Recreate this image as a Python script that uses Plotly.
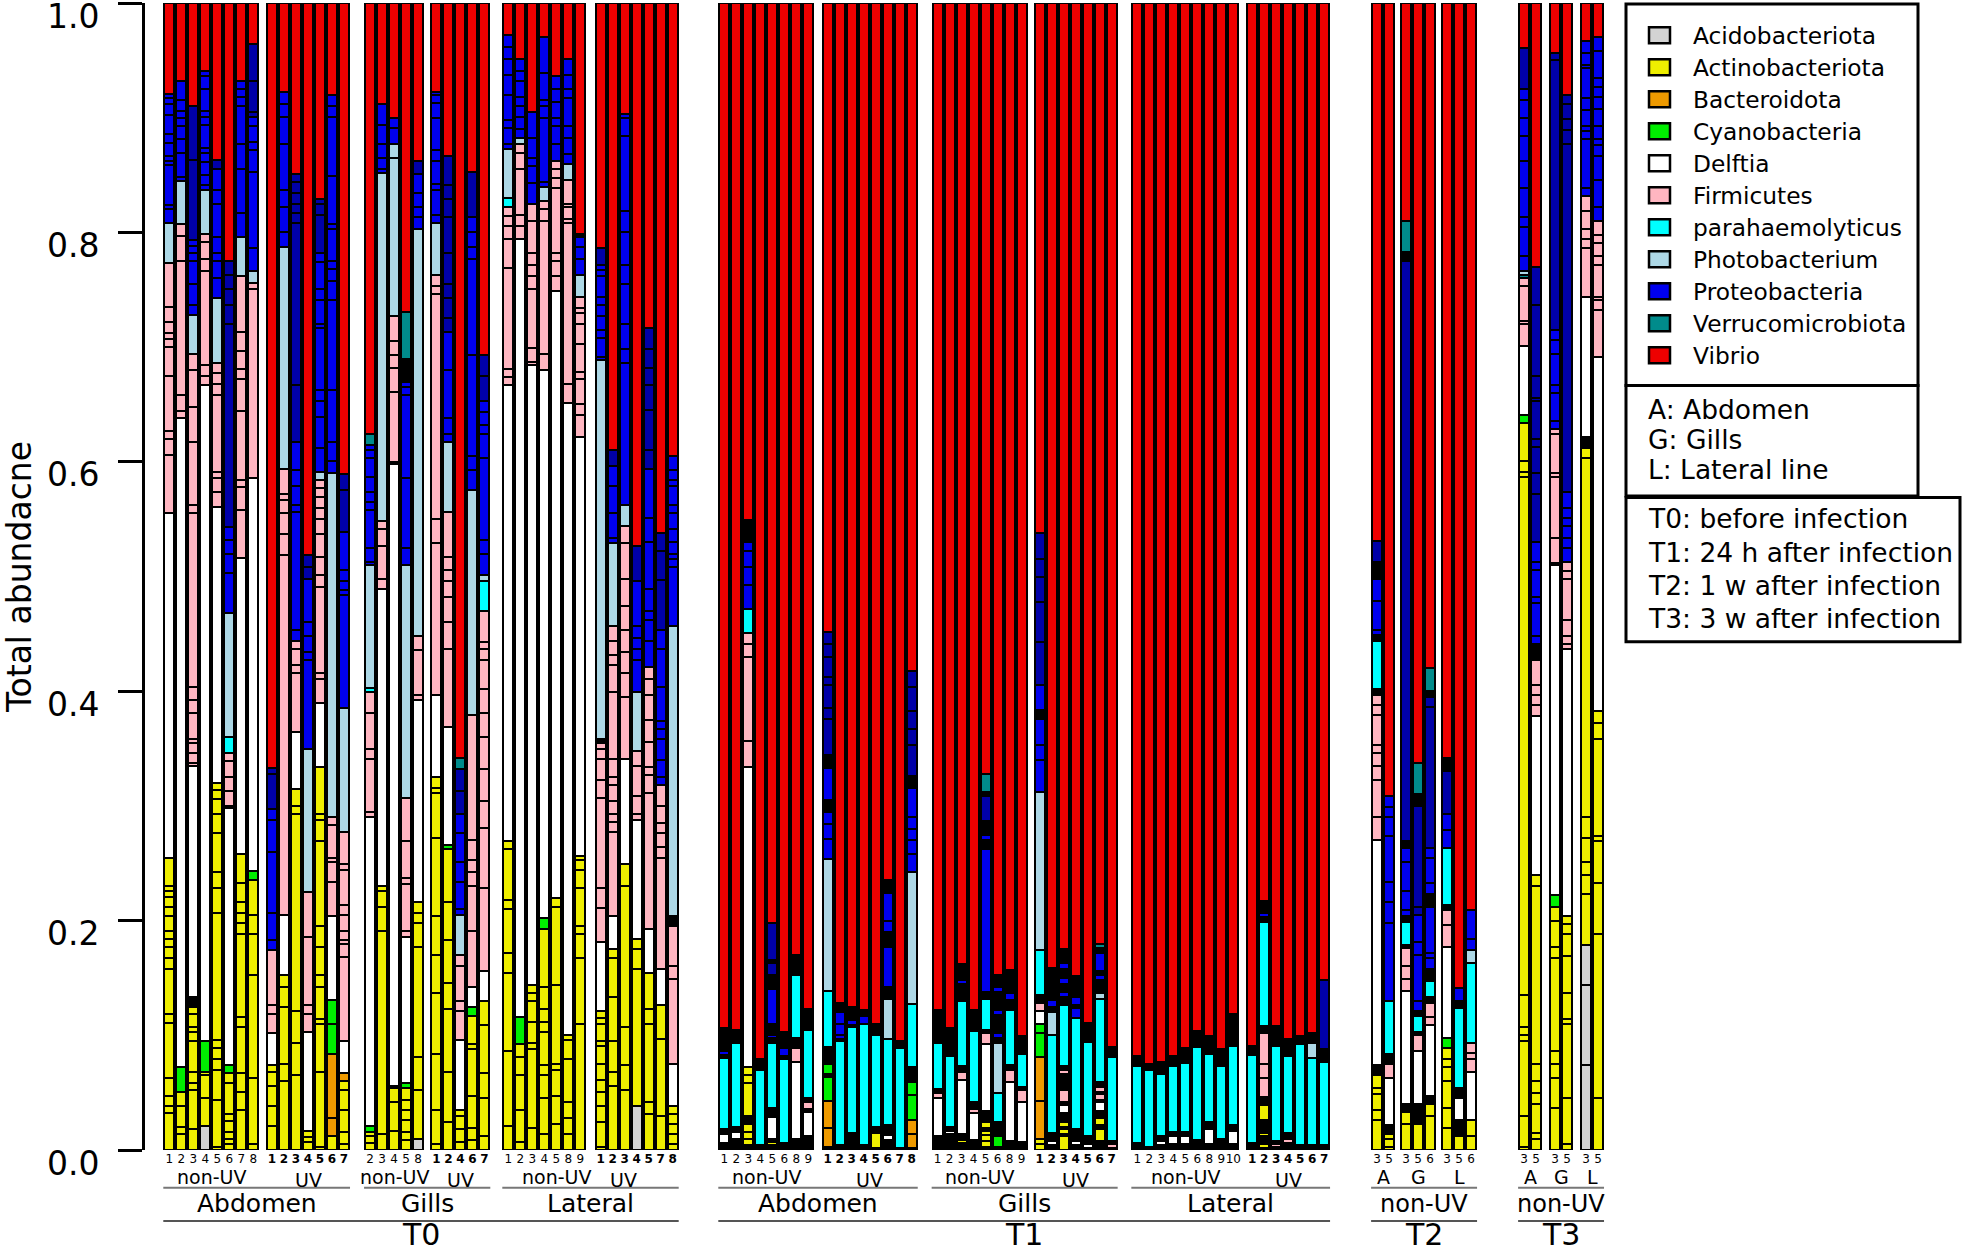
import plotly.graph_objects as go

# ---- taxa ----------------------------------------------------------------
LEGEND_TAXA = ["Acidobacteriota", "Actinobacteriota", "Bacteroidota", "Cyanobacteria", "Delftia", "Firmicutes",
               "parahaemolyticus", "Photobacterium", "Proteobacteria", "Verrucomicrobiota", "Vibrio"]
LEGEND_COLORS = ["#D3D3D3", "#EEEE00", "#EE9A00", "#00EE00", "#FFFFFF", "#FFB6C1",
                 "#00FFFF", "#ADD8E6", "#0000EE", "#008B8B", "#EE0000"]
CODE_NAME = {"A": "Acidobacteriota", "Y": "Actinobacteriota", "O": "Bacteroidota", "G": "Cyanobacteria",
             "W": "Delftia", "F": "Firmicutes", "C": "parahaemolyticus", "L": "Photobacterium",
             "B": "Proteobacteria", "D": "Proteobacteria (minor OTUs)", "T": "Verrucomicrobiota",
             "R": "Vibrio", "K": "unresolved thin OTUs"}
CODE_COLOR = {"A": "#D3D3D3", "Y": "#EEEE00", "O": "#EE9A00", "G": "#00EE00", "W": "#FFFFFF", "F": "#FFB6C1",
              "C": "#00FFFF", "L": "#ADD8E6", "B": "#0000EE", "D": "#0000A8", "T": "#008B8B",
              "R": "#EE0000", "K": "#000000"}

# ---- data: every bar lists taxon codes followed by cumulative segment tops; Vibrio fills up to 1.0 ----
T0_ABD_NON = [
 ["Y",.032,.038,.047,.063,.111,.119,.158,.167,.177,.184,.191,.204,.212,.221,.226,.230,.255,"W",.555,"F",.606,.620,.627,.675,.700,.707,.712,.722,.735,.773,"L",.808,"B",.820,.824,.859,.862,.867,.878,.886,.902,.912,.917,.921],
 ["Y",.014,.020,.038,.051,"G",.072,"W",.638,"F",.644,.658,.775,.797,.807,"L",.845,"B",.848,.869,.881,.893,.900,.906,.915,.932],
 ["Y",.018,.052,.058,.068,.095,.103,.107,.119,.125,"K",.133,"W",.335,"F",.337,.346,.355,.358,.381,.392,.404,.555,.562,.617,.648,.680,.694,"L",.728,"B",.737,.755,.775,.782,.788,.793,"D",.863,.910],
 ["A",.021,"Y",.045,.065,.068,"G",.095,"W",.667,"F",.675,.684,.766,.777,.792,.799,"L",.837,"B",.841,.850,.861,.869,.874,.894,.901,.906,.925,.936,.941],
 ["Y",.003,.044,.070,.079,.089,.096,.207,.228,.242,.276,.293,.306,.314,.320,"W",.561,"F",.574,.586,.591,.658,.668,.677,.686,"L",.743,"B",.760,.775,.782,.796,.825,.837,.855,"D",.863],
 ["Y",.005,.010,.016,.025,.031,.058,.067,"G",.074,"W",.298,"F",.300,.313,.325,.339,.346,"C",.360,"L",.468,"B",.503,.520,.532,.543,"D",.720,.737,.751,.763,.775],
 ["Y",.035,.051,.067,.107,.116,.188,.198,.207,.216,.233,.258,"W",.516,"F",.558,.578,.584,.644,.672,.681,.697,.713,.762,"L",.796,"B",.817,.855,.877,.910,.918,.925,.932],
 ["Y",.005,.063,.153,.188,.205,.235,"G",.243,"W",.586,"F",.751,.756,"L",.766,"B",.786,.853,.872,.879,.893,.901,"D",.905,.932,.964],
]
T0_ABD_UV = [
 ["Y",.021,.038,.056,.068,.074,"W",.102,"F",.119,.126,.174,"B",.183,.207,.260,.288,.297,"D",.328,.333],
 ["Y",.060,.075,.125,.142,.153,"W",.205,"F",.519,.537,.555,.567,.572,.594,"L",.787,"B",.800,.822,.837,.877,.901,.912,.922],
 ["Y",.065,.093,.121,.293,.300,.315,"W",.364,"F",.416,.423,.437,.444,"B",.453,.556,.562,.579,.593,.617,"D",.667,.808,.817,.825,.834,.844,.851],
 ["Y",.007,.011,.017,"W",.103,"F",.119,.126,.186,.225,"L",.350,"B",.427,.434,.448,.460,.498,"D",.508,.519],
 ["Y",.003,.068,.110,.114,.142,.153,.177,.195,.269,.288,.293,.334,"W",.390,"F",.411,.416,.491,.501,.517,.537,.550,.560,.569,.577,.584,"L",.591,"B",.612,.639,.653,.663,.717,.720,.741,.751,.774,.782,"D",.815,.825,.829],
 ["Y",.012,"O",.028,.084,"G",.110,.131,"W",.204,"F",.234,.251,.255,.283,.290,"L",.590,"B",.601,.617,.663,.741,.758,.768,.775,.803,.807,.849,.901,.910,.920],
 ["Y",.005,.016,.035,.052,.060,"O",.067,"W",.095,"F",.168,.180,.183,.191,.205,.214,.244,.249,.277,"L",.385,"B",.484,.488,.496,.506,.539,"D",.575,.589],
]
T0_GIL_NON = [
 ["Y",.006,.012,.016,"G",.021,"W",.290,"F",.295,.341,.350,.381,.399,"C",.403,"L",.510,"B",.513,.525,.558,.565,.574,.587,.603,.610,.615,"T",.624],
 ["Y",.014,.191,.212,.226,.230,"W",.489,"F",.498,.527,.541,.548,"L",.852,"B",.855,.865,.877,.894,.912],
 ["Y",.017,.042,.054,"K",.056,"W",.598,"F",.600,.661,.682,.693,.705,.727,"L",.865,.877,"B",.891,.900],
 ["Y",.009,.016,.026,.035,.044,.054,"G",.058,"W",.186,"F",.191,.232,.237,.269,.307,"L",.510,"B",.525,.586,.658,.665,.670,"K",.690,"T",.731],
 ["A",.010,"Y",.052,.081,.177,.198,.207,.216,"W",.392,"F",.397,.436,.448,"L",.803,"B",.813,.822,.834,.851,"D",.862],
]
T0_GIL_UV = [
 ["Y",.005,.035,.084,.137,.170,.204,.272,.311,.316,.325,"W",.397,"F",.529,.550,.746,.753,.763,"L",.808,"B",.815,.837,.842,.862,.872,.900,.913,.920,.922],
 ["Y",.024,.068,.123,.146,.183,.216,.262,"G",.266,"W",.369,"F",.437,.460,.482,.496,.506,.517,.556,"L",.617,"B",.624,.638,.680,.713,"D",.725,.743,.755,.782,.813,.829,.841,.867],
 ["Y",.007,.018,.030,.035,"W",.096,"F",.121,.130,.160,.170,"L",.205,"B",.210,.234,.251,.276,.293,"D",.313,.332,"T",.342],
 ["Y",.009,.019,.047,.088,.092,.117,"G",.125,"W",.142,"F",.191,.230,.242,.253,.270,.379,"L",.575,"B",.593,.605,.693,.777,.787,.800,.813,"D",.853],
 ["Y",.012,.045,.067,.109,.130,"W",.156,"F",.228,.281,.304,.332,.360,.381,.402,.427,.437,.443,.470,"C",.496,"L",.501,"B",.520,.532,.603,.624,.632,.643,.653,"D",.675,.693],
]
T0_LAT_NON = [
 ["Y",.021,.086,.154,.172,.210,.218,.262,.269,"W",.667,"F",.674,.681,.769,.794,.806,.814,.822,"C",.830,"L",.873,"B",.877,.891,.898,.920,.937,.951,.962,.972],
 ["Y",.007,.035,.065,.081,.092,"G",.116,"W",.794,"F",.806,.815,.855,.869,.877,"L",.882,"B",.890,.901,.910,.918,.932,.941,.951],
 ["Y",.019,.088,.093,.112,.130,.137,.144,"W",.684,"F",.687,.699,.751,.762,.772,.782,.810,.825,"B",.843,.858,.865,.882,.905],
 ["Y",.014,.045,.065,.074,.103,.112,.123,.142,.193,"G",.202,"W",.680,"F",.694,.810,.820,.827,"L",.840,"B",.844,.900,.910,.915,.939,.970],
 ["Y",.023,.047,.070,.075,.144,.212,.220,"W",.749,"F",.762,.775,.782,.839,.847,.855,.862,"B",.877,.893,.900,.914,.925,.936],
 ["Y",.014,.028,.042,.079,.096,.100,"W",.651,"F",.668,.808,.812,.822,.825,.846,"L",.860,"B",.868,.882,.893,.917,.925,.937,.951],
 ["Y",.110,.167,.188,.195,.228,.244,.253,.256,"W",.622,"F",.641,.650,.672,.678,.703,.720,.730,.734,.744,"L",.763,"B",.777,.787,.796,"K",.799],
]
T0_LAT_UV = [
 ["Y",.003,.024,.038,.051,.061,.075,.091,.095,.110,.115,.121,"W",.181,"F",.211,.228,.307,.323,.341,.350,.355,"K",.358,"L",.689,"B",.691,.708,.715,.727,.737,.744,.762,.767,.772,"D",.786],
 ["Y",.056,.068,.095,.133,.167,.175,"W",.204,"F",.277,.286,.293,.304,.318,.325,.341,.399,.423,.432,.444,.457,"L",.529,"B",.534,.555,.579,.596,"D",.610],
 ["Y",.052,.074,.107,.230,.249,"W",.341,"F",.395,.416,.434,.453,.474,.498,.529,.544,"L",.562,"B",.686,.698,.720,.755,.772,.800,.819,.884,.900,.903],
 ["A",.038,"Y",.158,.175,.184,"W",.288,"F",.293,.309,.335,.348,"L",.399,"B",.427,.437,.446,.457,.496,"D",.527],
 ["Y",.031,.042,.110,.123,.154,"W",.193,"F",.311,.327,.334,.356,.375,.397,.411,.421,"B",.444,.462,.470,.489,.530,.551,.594,"D",.610,.645,.667,.682,.698,.717],
 ["Y",.030,.097,.126,"W",.158,"F",.255,.264,.276,.285,.300,.318,"B",.325,.340,.358,.367,.374,.404,.437,.453,"D",.497,.522,.538],
 ["Y",.005,.014,.023,.031,.038,"W",.075,"F",.149,.160,.195,"K",.204,"L",.457,"B",.508,.515,.520,.530,.541,.555,.562,.579,.584,.593,.605],
]
T1_ABD_NON = [
 ["K",.006,"W",.014,"K",.018,"C",.080,"K",.083,"B",.086,"K",.106],
 ["K",.010,"W",.016,"K",.020,"C",.093,"K",.105],
 ["K",.004,"Y",.010,.016,.023,"K",.030,"Y",.058,.065,.072,"W",.334,"F",.357,.430,.441,.451,"C",.472,"B",.493,.508,.522,.530,"K",.549],
 ["K",.004,"C",.070,"K",.079],
 ["K",.004,"Y",.007,"K",.010,"W",.029,"K",.037,"C",.093,"K",.098,"B",.100,"K",.110,"B",.140,"K",.153,"D",.163,"K",.166,"D",.198],
 ["K",.006,"C",.079,"K",.082,"B",.089,"K",.103],
 ["K",.010,"W",.077,"F",.089,"K",.098,"C",.153,"K",.170],
 ["K",.006,"Y",.008,"K",.012,"W",.033,"K",.036,"F",.042,"K",.045,"C",.105,"K",.123],
]
T1_ABD_UV = [
 ["K",.003,"O",.019,.043,"G",.064,"K",.066,"G",.075,"K",.090,"C",.139,"L",.254,"B",.271,.284,.295,"K",.305,"B",.333,"K",.344,"D",.376,.385,.405,.412,.430,.441,.452],
 ["K",.004,"C",.095,"K",.097,"B",.100,.110,.120,"K",.128],
 ["K",.015,"C",.107,"K",.109,"B",.113,"K",.125],
 ["K",.004,"C",.110,"B",.117,"K",.122],
 ["K",.002,"Y",.015,"K",.020,"C",.100,"K",.110],
 ["K",.009,"W",.013,"K",.022,"C",.097,"L",.132,"K",.142,"B",.177,"K",.190,"B",.200,.224,"K",.235],
 ["K",.002,"C",.089,"K",.095],
 ["K",.002,"O",.014,.026,"G",.048,.059,"K",.072,"C",.127,"L",.242,"B",.258,.270,.280,.290,.316,"K",.326,"D",.353,.367,.383,.404,.418],
]
T1_GIL_NON = [
 ["K",.012,"W",.045,"F",.050,"K",.053,"C",.093,"K",.122],
 ["K",.014,"W",.017,"K",.020,"C",.082,"K",.106],
 ["K",.006,"Y",.009,"K",.014,"W",.061,"F",.068,"K",.073,"C",.130,"K",.145,"B",.148,"K",.162],
 ["K",.004,"Y",.006,"K",.009,"W",.032,"F",.036,"K",.042,"C",.104,"K",.122],
 ["K",.003,"Y",.008,.013,.017,"K",.019,"Y",.024,"K",.034,"W",.092,"F",.102,"K",.105,"C",.132,"K",.138,"B",.262,"K",.270,"B",.275,"K",.287,"D",.309,"K",.312,"T",.328],
 ["K",.003,"G",.012,"K",.014,"W",.016,"K",.024,"C",.050,"L",.093,"K",.098,"B",.102,"K",.118,"B",.122,"K",.138,"B",.142,"K",.153],
 ["K",.008,"W",.059,"F",.070,"K",.074,"C",.122,"K",.131,"B",.137,"K",.157],
 ["K",.007,"W",.042,"F",.052,"K",.055,"C",.084,"K",.099],
]
T1_GIL_UV = [
 ["Y",.005,.010,"O",.043,.081,"G",.102,.110,"W",.121,"F",.128,"K",.135,"C",.174,"L",.312,"B",.340,.353,.376,"K",.384,"B",.405,"D",.443,.478,.500,.515,.538],
 ["K",.004,"W",.008,"K",.015,"C",.100,"L",.120,"K",.125,"B",.131,"K",.159],
 ["Y",.012,"K",.014,"Y",.018,"K",.020,"Y",.024,"K",.032,"W",.039,"K",.042,"F",.052,"K",.066,"F",.070,"K",.073,"C",.126,"K",.133,"B",.138,"K",.145,"B",.150,"K",.158,"B",.163,"K",.175],
 ["K",.004,"W",.008,"K",.018,"C",.115,"B",.124,"K",.126,"B",.133,"K",.152],
 ["K",.002,"W",.005,"K",.012,"C",.094,"K",.111],
 ["Y",.002,"K",.008,"Y",.018,"K",.022,"Y",.028,"K",.034,"W",.042,"K",.044,"F",.049,"K",.051,"F",.055,"K",.059,"C",.132,"L",.137,"K",.148,"B",.153,"K",.156,"B",.172,"K",.176,"T",.180],
 ["K",.002,"F",.005,"K",.008,"C",.081,"K",.090],
]
T1_LAT_NON = [
 ["K",.006,"C",.073,"K",.082],
 ["K",.003,"C",.070,"K",.075],
 ["K",.004,"W",.008,"K",.012,"C",.066,"K",.077],
 ["K",.005,"W",.012,"K",.016,"C",.073,"K",.082],
 ["K",.005,"W",.012,"K",.016,"C",.076,"K",.089],
 ["K",.009,"C",.090,"K",.104],
 ["K",.005,"W",.018,"K",.024,"C",.084,"K",.099],
 ["K",.007,"W",.008,"K",.010,"C",.073,"K",.088],
 ["K",.005,"W",.017,"K",.022,"C",.091,"K",.119],
]
T1_LAT_UV = [
 ["K",.006,"C",.083,"K",.091],
 ["Y",.001,"K",.002,"Y",.005,"K",.012,"Y",.015,"K",.026,"Y",.039,"K",.046,"F",.063,.075,.102,"K",.108,"C",.199,"K",.203,"B",.207,"K",.217],
 ["K",.003,"F",.005,"K",.008,"C",.091,"K",.108],
 ["K",.006,"F",.010,"K",.015,"C",.082,"K",.097],
 ["K",.004,"C",.092,"K",.099],
 ["K",.004,"C",.080,"L",.093,"K",.102],
 ["K",.004,"C",.077,"K",.088,"D",.148],
]
T2_A = [
 ["Y",.026,.035,.049,.054,.065,"K",.074,"W",.270,"F",.290,.323,.335,.346,.353,.379,.388,.397,"K",.402,"C",.444,"K",.449,"B",.453,.479,.498,"K",.513,"D",.531],
 ["Y",.003,.010,.014,"K",.022,"W",.063,"F",.075,"K",.084,"C",.130,"B",.198,.216,.234,.274,.290,.299,.309],
]
T2_G = [
 ["Y",.023,.033,"K",.040,"W",.139,"F",.149,.160,.176,"K",.179,"C",.199,"K",.204,"B",.209,.226,.251,.263,"K",.269,"D",.775,"K",.783,"T",.810],
 ["Y",.023,"K",.040,"W",.086,"F",.100,"K",.103,"C",.117,"K",.121,"B",.130,.170,.181,.205,"D",.212,.300,"K",.310,"T",.337],
 ["Y",.030,.040,"K",.047,"W",.109,"F",.116,.128,"K",.133,"C",.147,"K",.158,"B",.167,.172,.212,"K",.223,"B",.233,.255,.263,"D",.386,.395,"K",.400,"T",.420],
]
T2_L = [
 ["Y",.019,.037,.060,.072,.079,.089,"G",.098,"W",.177,"F",.196,.209,"K",.214,"C",.263,"B",.279,.293,"D",.330,"K",.342],
 ["Y",.012,"K",.026,"W",.045,"K",.054,"C",.124,"K",.130,"B",.141],
 ["Y",.012,.026,"W",.068,"F",.079,.085,.093,"C",.163,"L",.174,"B",.184,.209],
]
T3_A = [
 ["Y",.003,.030,.095,.100,.107,.135,.587,.591,.601,.634,"G",.641,"W",.701,"F",.720,.723,.753,.760,"T",.763,"L",.766,"B",.779,.805,.813,.839,.862,.884,.900,.915,.925,"D",.961],
 ["Y",.010,.015,.040,.050,.060,.075,.230,.240,"W",.378,"F",.388,.397,.405,.427,"K",.441,"B",.448,.477,.482,.506,.513,.530,"D",.572,.590,.613,.620,.653,.656,.675,.737,.770],
]
T3_G = [
 ["Y",.037,.063,.075,.086,.167,.177,.200,.212,"G",.222,"W",.510,"F",.512,.534,.587,.590,.624,.629,"B",.636,.660,.667,.694,.706,.715,"D",.950,.956],
 ["Y",.005,.045,.110,.114,.137,.169,.188,.197,.204,"W",.437,"F",.441,.448,.462,.498,.505,.513,"B",.525,.534,.544,.551,.560,.574,"D",.877,.889,.899,.912,.920],
]
T3_L = [
 ["A",.074,.144,.179,"Y",.223,.240,.251,.272,.290,.603,.612,"K",.622,"W",.744,"F",.786,.794,.803,.819,.832,"B",.839,.881,.888,.893,.907,.917,.943,.946,.956,.967],
 ["Y",.045,.188,.233,.269,.274,.358,.372,.383,"W",.691,"F",.732,.741,.744,.772,.779,.791,.798,.810,"B",.822,.846,.867,.876,.881,.893,.908,.918,.927,.935,.958,.970],
]

GROUPS = [  # data, sample labels, bold labels, first-bar slot
    (T0_ABD_NON, ["1","2","3","4","5","6","7","8"], False, 0.00),
    (T0_ABD_UV, ["1","2","3","4","5","6","7"], True, 8.56),
    (T0_GIL_NON, ["2","3","4","5","8"], False, 16.73),
    (T0_GIL_UV, ["1","2","4","6","7"], True, 22.25),
    (T0_LAT_NON, ["1","2","3","4","5","8","9"], False, 28.25),
    (T0_LAT_UV, ["1","2","3","4","5","7","8"], True, 35.95),
    (T1_ABD_NON, ["1","2","3","4","5","6","8","9"], False, 46.25),
    (T1_ABD_UV, ["1","2","3","4","5","6","7","8"], True, 54.87),
    (T1_GIL_NON, ["1","2","3","4","5","6","8","9"], False, 64.03),
    (T1_GIL_UV, ["1","2","3","4","5","6","7"], True, 72.53),
    (T1_LAT_NON, ["1","2","3","4","5","6","8","9","10"], False, 80.67),
    (T1_LAT_UV, ["1","2","3","4","5","6","7"], True, 90.23),
    (T2_A, ["3","5"], False, 100.65),
    (T2_G, ["3","5","6"], False, 103.07),
    (T2_L, ["3","5","6"], False, 106.48),
    (T3_A, ["3","5"], False, 112.90),
    (T3_G, ["3","5"], False, 115.48),
    (T3_L, ["3","5"], False, 118.06),
]

# ---- layout geometry ------------------------------------------------------
W, H = 1968, 1252
ML, MT, MB = 145, 3, 102
PITCH = 12.0
FIRST_PX = 169.3
FONT = "DejaVu Sans"
px2slot = lambda px: (px - FIRST_PX) / PITCH
xp = lambda px: (px - ML) / (W - ML)
yp = lambda py: (H - MB - py) / (H - MB - MT)

# ---- build segments -------------------------------------------------------
seg = {c: dict(x=[], y=[], base=[]) for c in CODE_NAME}
tickvals, ticktext, spans = [], [], []
for data, labels, bold, start in GROUPS:
    xs = [start + i for i in range(len(data))]
    spans.append((xs[0], xs[-1]))
    for x, lab, bar in zip(xs, labels, data):
        tickvals.append(x)
        ticktext.append(f"<b>{lab}</b>" if bold else lab)
        prev, code = 0.0, None
        for item in list(bar) + ["R", 1.0]:
            if isinstance(item, str):
                code = item
                continue
            if item > prev:
                seg[code]["x"].append(x)
                seg[code]["y"].append(round(item - prev, 4))
                seg[code]["base"].append(round(prev, 4))
                prev = item

fig = go.Figure()
for code in ["A", "Y", "O", "G", "W", "F", "C", "L", "B", "D", "T", "R", "K"]:
    s = seg[code]
    fig.add_trace(go.Bar(name=CODE_NAME[code], x=s["x"], y=s["y"], base=s["base"], width=0.833,
                         marker=dict(color=CODE_COLOR[code], line=dict(color="black", width=2)),
                         showlegend=False))

shapes, annots = [], []

def text(px, py, s, size, anchor="center", color="black"):
    annots.append(dict(x=xp(px), y=yp(py), xref="paper", yref="paper", text=s, showarrow=False,
                       xanchor=anchor, yanchor="middle", font=dict(family=FONT, size=size, color=color)))

def label(slot, py, s, size):
    annots.append(dict(x=slot, y=yp(py), xref="x", yref="paper", text=s, showarrow=False,
                       xanchor="center", yanchor="middle", font=dict(family=FONT, size=size, color="black")))

def rule(a, b, py, color="#777777", width=2):
    shapes.append(dict(type="line", xref="x", yref="paper", x0=spans[a][0]-0.5, x1=spans[b][1]+0.5,
                       y0=yp(py), y1=yp(py), line=dict(color=color, width=width)))

mid = lambda a, b: (spans[a][0] + spans[b][1]) / 2
# second-line labels below each pair of sample groups
for a, b, off_n, off_u, name in [(0, 1, 0, 0, "Abdomen"), (2, 3, 0, 0, "Gills"), (4, 5, 1.05, -1.1, "Lateral"),
                                 (6, 7, 0, 0, "Abdomen"), (8, 9, 0, 0, "Gills"), (10, 11, 0, 0, "Lateral")]:
    label(mid(a, a) + off_n, 1177, "non-UV", 19)
    label(mid(b, b) + off_u, 1180, "UV", 19)
    rule(a, b, 1187.7)
    label(mid(a, b), 1203.5, name, 25)
rule(0, 5, 1221, "#555555")
label(mid(0, 5), 1234, "T0", 30)
rule(6, 11, 1221, "#555555")
label(mid(6, 11), 1234, "T1", 30)
for g, s in [(12, "A"), (13, "G"), (14, "L"), (15, "A"), (16, "G"), (17, "L")]:
    label(mid(g, g), 1177, s, 19)
for a, b, name in [(12, 14, "T2"), (15, 17, "T3")]:
    rule(a, b, 1187.7)
    label(mid(a, b), 1203.5, "non-UV", 24)
    rule(a, b, 1221, "#555555")
    label(mid(a, b), 1234, name, 30)

# legend panels
def box(x0, y0, x1, y1):
    shapes.append(dict(type="rect", xref="paper", yref="paper", x0=xp(x0), x1=xp(x1), y0=yp(y0), y1=yp(y1),
                       line=dict(color="black", width=3), fillcolor="white"))

box(1626, 4, 1918, 385.6)
box(1626, 385.6, 1918, 496)
box(1626, 497.5, 1960, 641.8)
for i, (name, col) in enumerate(zip(LEGEND_TAXA, LEGEND_COLORS)):
    yc = 35.2 + 32 * i
    shapes.append(dict(type="rect", xref="paper", yref="paper", x0=xp(1649), x1=xp(1670), y0=yp(yc - 8), y1=yp(yc + 8),
                       line=dict(color="black", width=2.5), fillcolor=col))
    text(1691, yc + 0.5, name, 23.3, "left")
for yc, s in [(409.6, "A: Abdomen"), (439.5, "G: Gills"), (469.7, "L: Lateral line")]:
    text(1646, yc, s, 26.5, "left")
for yc, s in [(518, "T0: before infection"), (552, "T1: 24 h after infection"),
              (585, "T2: 1 w after infection"), (618.6, "T3: 3 w after infection")]:
    text(1646, yc, s, 26.5, "left")

fig.update_layout(
    width=W, height=H, autosize=False, barmode="overlay", bargap=0,
    margin=dict(l=ML, r=0, t=MT, b=MB, pad=0, autoexpand=False), plot_bgcolor="white", paper_bgcolor="white",
    font=dict(family=FONT, color="black"), shapes=shapes, annotations=annots, showlegend=False,
    xaxis=dict(range=[px2slot(ML), px2slot(W)], showgrid=False, zeroline=False, showline=False, ticks="",
               tickmode="array", tickvals=tickvals, ticktext=ticktext, tickangle=0,
               tickfont=dict(family=FONT, size=12, color="black")),
    yaxis=dict(range=[0, 1], showgrid=False, zeroline=False, showline=True, linecolor="black", linewidth=3,
               ticks="outside", ticklen=24, tickwidth=3, tickcolor="black", tickmode="array",
               tickvals=[0, 0.2, 0.4, 0.6, 0.8, 1.0], ticktext=["0.0", "0.2", "0.4", "0.6", "0.8", "1.0"],
               ticklabeloverflow="allow", ticklabelshift=13, ticklabelstandoff=12,
               tickfont=dict(family=FONT, size=33, color="black"),
               title=dict(text="Total abundacne", font=dict(family=FONT, size=33, color="black"), standoff=26)),
)
fig.write_html("out.html", config={"displayModeBar": False},
               post_script="document.body.style.margin='0';document.documentElement.style.overflow='hidden';")
